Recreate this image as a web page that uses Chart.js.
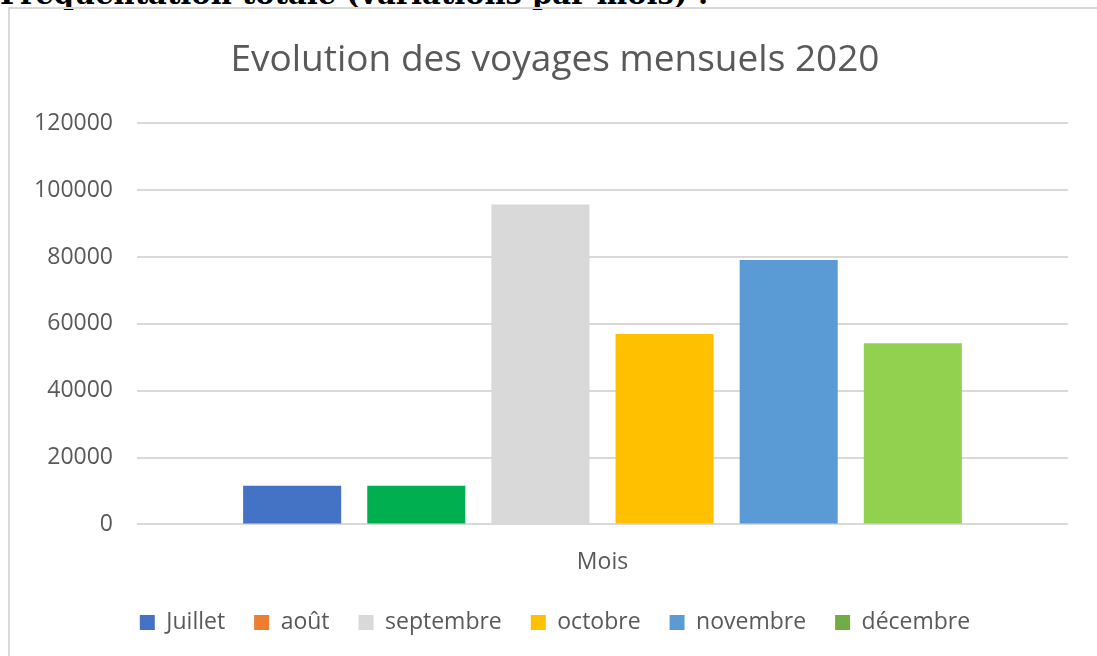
<!DOCTYPE html>
<html lang="fr">
<head>
    <meta charset="utf-8">
    <title>Evolution des voyages mensuels 2020</title>
    <script src="https://cdn.jsdelivr.net/npm/chart.js"></script>
    <style>
        html, body { margin: 0; padding: 0; background: #fff; overflow: hidden; }
        .heading {
            position: absolute; left: 0; top: -23px; margin: 0;
            font: bold 29px "DejaVu Serif", serif; color: #000; white-space: nowrap;
        }
        .frame {
            position: absolute; left: 8px; top: 7px; width: 1200px; height: 700px;
            border-left: 2px solid #d9d9d9; border-top: 2px solid #d9d9d9;
        }
        .chart-container { position: absolute; left: 0; top: 0; width: 1097px; height: 656px; }
    </style>
</head>
<body>
    <p class="heading">Fréquentation totale (variations par mois) :</p>
    <div class="frame"></div>
    <div class="chart-container">
        <canvas id="chart"></canvas>
    </div>
    <script>
    // données
    var categories = ["Mois"];
    var months = ["Juillet", "août", "septembre", "octobre", "novembre", "décembre"];
    var trips = [11600, 11600, 95700, 57000, 79100, 54200];
    var barColors = ["#4472C4", "#00B050", "#D9D9D9", "#FFC000", "#5B9BD5", "#92D050"];
    var legendColors = ["#4472C4", "#ED7D31", "#D9D9D9", "#FFC000", "#5B9BD5", "#70AD47"];
    var yTicks = [0, 20000, 40000, 60000, 80000, 100000, 120000];

    var textColor = "#595959";
    var font = "'Open Sans', sans-serif";

    var datasets = months.map(function(m, i) {
        return {
            label: m,
            data: [trips[i]],
            backgroundColor: barColors[i],
            borderWidth: 0,
            categoryPercentage: 0.8,
            barPercentage: 0.79
        };
    });

    // les étiquettes de l'axe Y débordent dans la marge gauche : on élargit leur zone
    var widenYAxis = {
        id: "widenYAxis",
        afterLayout: function(c) { c.scales.y.left = 0; }
    };

    var chart = new Chart(document.getElementById("chart"), {
        type: "bar",
        data: { labels: categories, datasets: datasets },
        plugins: [widenYAxis],
        options: {
            responsive: true,
            maintainAspectRatio: false,
            animation: false,
            layout: { padding: { left: 42, right: 29, top: 0, bottom: 12 } },
            plugins: {
                tooltip: { enabled: false },
                title: {
                    display: true,
                    text: "Evolution des voyages mensuels 2020",
                    color: textColor,
                    font: { family: font, size: 37, weight: "normal" },
                    padding: { top: 38, bottom: 41 }
                },
                legend: {
                    position: "bottom",
                    labels: {
                        color: textColor,
                        font: { family: font, size: 23 },
                        boxWidth: 15,
                        boxHeight: 15,
                        padding: 29,
                        generateLabels: function(c) {
                            return c.data.datasets.map(function(ds, i) {
                                return {
                                    text: ds.label,
                                    fillStyle: legendColors[i],
                                    strokeStyle: legendColors[i],
                                    lineWidth: 0,
                                    fontColor: textColor,
                                    datasetIndex: i
                                };
                            });
                        }
                    }
                }
            },
            scales: {
                x: {
                    afterFit: function(scale) { scale.height -= 10; },
                    grid: { display: false },
                    border: { display: false },
                    ticks: { color: textColor, font: { family: font, size: 23 }, padding: 16 }
                },
                y: {
                    min: 0,
                    max: 120000,
                    afterBuildTicks: function(scale) {
                        scale.ticks = yTicks.map(function(v) { return { value: v }; });
                    },
                    afterFit: function(scale) { scale.width = 95; },
                    grid: { color: "#d9d9d9", lineWidth: 2, drawTicks: false },
                    border: { display: false },
                    ticks: {
                        color: textColor,
                        font: { family: font, size: 23 },
                        padding: 24,
                        callback: function(v) { return String(v); }
                    }
                }
            }
        }
    });
    </script>
</body>
</html>
